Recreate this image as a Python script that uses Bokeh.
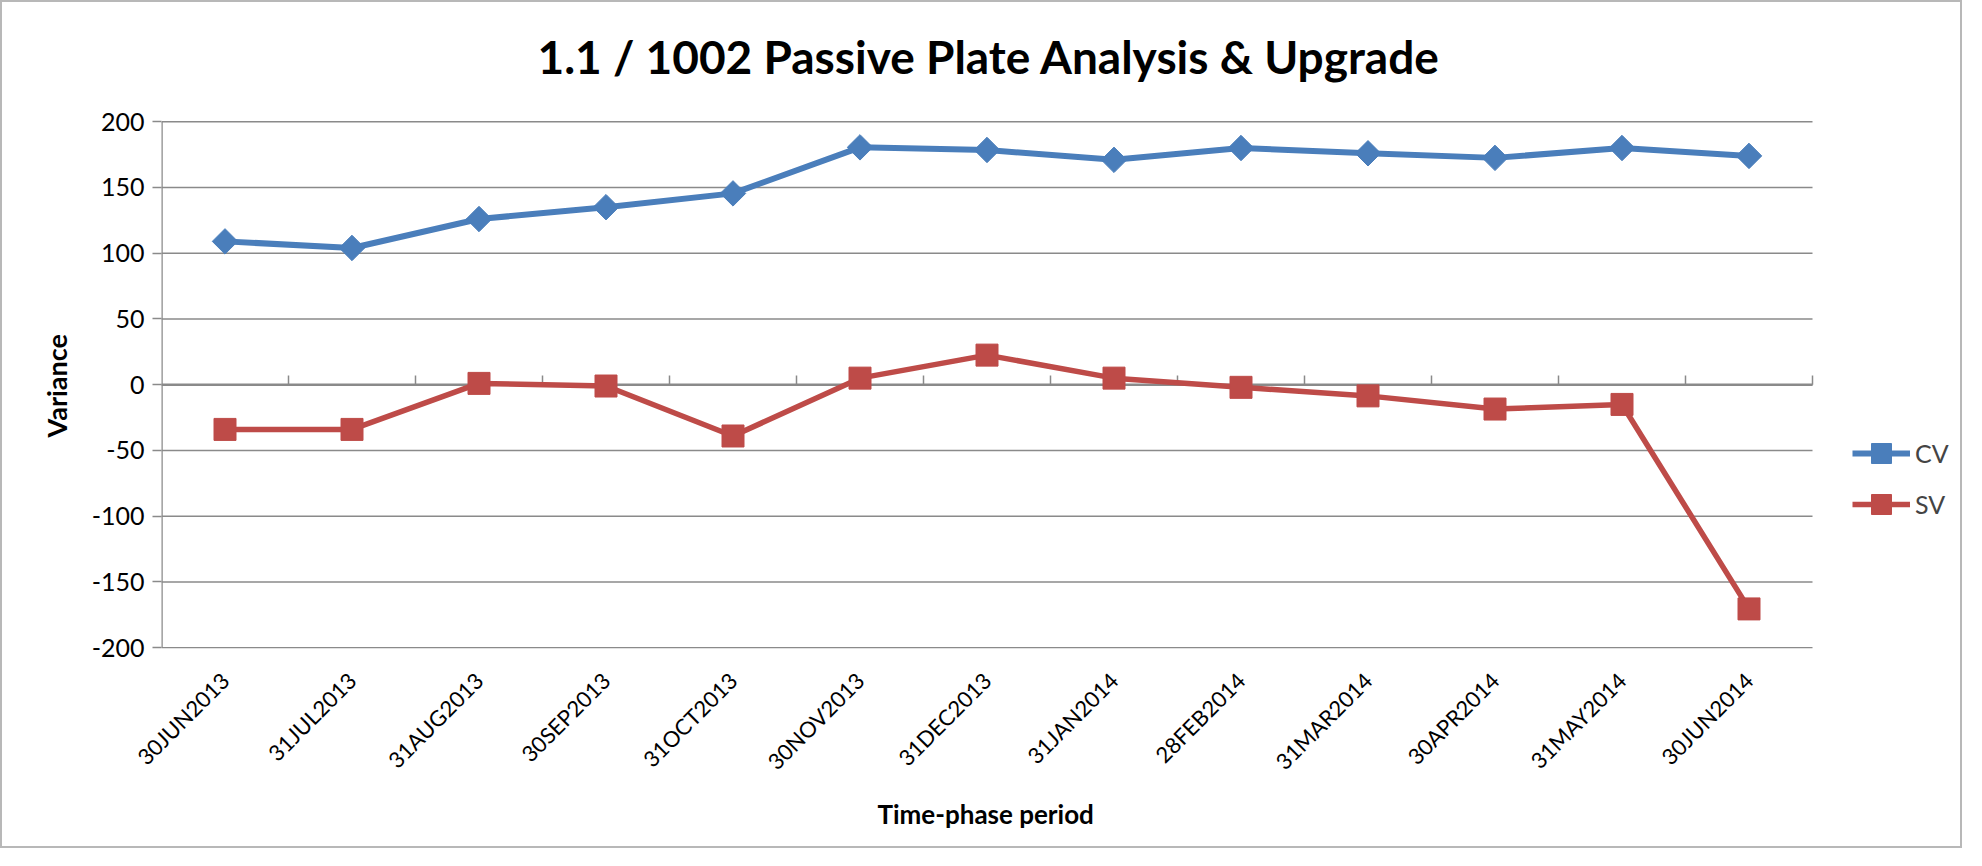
import math
from bokeh.plotting import figure
from bokeh.models import (Range1d, FixedTicker, Legend, LegendItem, Title,
                          ColumnDataSource)
from bokeh.embed import file_html
from bokeh.resources import INLINE

categories = ["30JUN2013", "31JUL2013", "31AUG2013", "30SEP2013", "31OCT2013",
              "30NOV2013", "31DEC2013", "31JAN2014", "28FEB2014", "31MAR2014",
              "30APR2014", "31MAY2014", "30JUN2014"]
cv_values = [109, 104, 126, 135, 145.5, 180.5, 178.5, 171, 180, 176, 172.5, 180, 174]
sv_values = [-34, -34, 1, -1, -39, 5, 22.5, 5, -2, -8.5, -18.5, -15, -170.5]
y_ticks = [-200, -150, -100, -50, 0, 50, 100, 150, 200]

FONT = "Lato"
GRID = "#8a8a8a"
CV_COLOR = "#4A7EBB"
SV_COLOR = "#BE4B48"

n = len(categories)
xpos = [i + 0.5 for i in range(n)]          # category centres on the numeric scale
x_label_map = {x: c for x, c in zip(xpos, categories)}
y_tick_labels = {t: str(t) for t in y_ticks}

FIG_W, FIG_H = 1962, 848
LEFT, TOP, BOTTOM = 159, 100, 202
PLOT_W = 1651                                # width occupied by the 13 categories
PX_PER_UNIT = 1.315
x_end = n * (FIG_W - LEFT) / PLOT_W          # extra room on the right for the legend
y_lo = -200.6
y_hi = y_lo + (FIG_H - TOP - BOTTOM) / PX_PER_UNIT   # extra room above for the title

p = figure(width=FIG_W, height=FIG_H, output_backend="svg", toolbar_location=None,
           x_range=Range1d(0, x_end), y_range=Range1d(y_lo, y_hi),
           min_border_left=LEFT, min_border_right=0, min_border_top=TOP,
           min_border_bottom=BOTTOM)
p.title.text = "1.1 / 1002 Passive Plate Analysis & Upgrade"
p.title.align = "left"
p.title.offset = 376
p.title.text_font = FONT
p.title.text_font_size = "46px"
p.title.text_font_style = "bold"
p.title.text_color = "black"
p.title.standoff = 37

p.outline_line_color = None
p.background_fill_color = "white"
p.border_fill_color = "white"
p.styles = {"border": "2px solid #b8b8b8"}

p.xgrid.grid_line_color = None
p.ygrid.grid_line_color = None

# horizontal gridlines, limited to the category area
p.segment(x0=[0] * len(y_ticks), y0=y_ticks, x1=[n] * len(y_ticks), y1=y_ticks,
          line_color=GRID, line_width=1.4)
# vertical axis line, limited to the tick range
p.segment(x0=[0], y0=[min(y_ticks)], x1=[0], y1=[max(y_ticks)],
          line_color=GRID, line_width=2.5)
# horizontal axis at zero, with boundary tick marks
p.segment(x0=[0], y0=[0], x1=[n], y1=[0], line_color=GRID, line_width=2.5)
bounds = list(range(1, n + 1))
p.segment(x0=bounds, y0=[0] * n, x1=bounds, y1=[7] * n,
          line_color=GRID, line_width=1.5)

# y axis
p.yaxis.ticker = FixedTicker(ticks=y_ticks)
p.yaxis.major_label_overrides = y_tick_labels
p.yaxis.axis_line_color = None
p.yaxis.major_tick_line_color = GRID
p.yaxis.major_tick_line_width = 1.5
p.yaxis.major_tick_out = 9
p.yaxis.major_tick_in = 0
p.yaxis.minor_tick_line_color = None
p.yaxis.major_label_text_font = FONT
p.yaxis.major_label_text_font_size = "25px"
p.yaxis.major_label_text_color = "black"
p.yaxis.major_label_standoff = 8

ytitle = Title(text="Variance", align="left", offset=211, standoff=31,
               text_font=FONT, text_font_size="27px", text_font_style="bold",
               text_color="black")
p.add_layout(ytitle, "left")

# x axis: category labels at the bottom
p.xaxis.ticker = FixedTicker(ticks=xpos)
p.xaxis.major_label_overrides = x_label_map
p.xaxis.axis_line_color = None
p.xaxis.major_tick_line_color = None
p.xaxis.minor_tick_line_color = None
p.xaxis.major_label_orientation = math.pi / 4
p.xaxis.major_label_text_font = FONT
p.xaxis.major_label_text_font_size = "22px"
p.xaxis.major_label_text_color = "black"
p.xaxis.major_label_standoff = 22

xtitle = Title(text="Time-phase period", align="left", offset=716, standoff=16,
               text_font=FONT, text_font_size="26px", text_font_style="bold",
               text_color="black")
p.add_layout(xtitle, "below")

src = ColumnDataSource(dict(x=xpos, cv=cv_values, sv=sv_values))
cv_line = p.line("x", "cv", source=src, line_color=CV_COLOR, line_width=6)
cv_mark = p.scatter("x", "cv", source=src, marker="square", angle=math.pi / 4,
                    size=18, fill_color=CV_COLOR, line_color=CV_COLOR)
sv_line = p.line("x", "sv", source=src, line_color=SV_COLOR, line_width=5.5)
sv_mark = p.scatter("x", "sv", source=src, marker="square", size=22,
                    fill_color=SV_COLOR, line_color=SV_COLOR)

legend = Legend(items=[LegendItem(label="CV", renderers=[cv_line, cv_mark]),
                       LegendItem(label="SV", renderers=[sv_line, sv_mark])],
                location=(1691, 119), padding=0, margin=0, spacing=1,
                glyph_width=58, glyph_height=50, label_standoff=5,
                label_text_font=FONT, label_text_font_size="25px",
                border_line_color=None, background_fill_alpha=0)
p.add_layout(legend)

open("out.html", "w").write(file_html(p, INLINE))
